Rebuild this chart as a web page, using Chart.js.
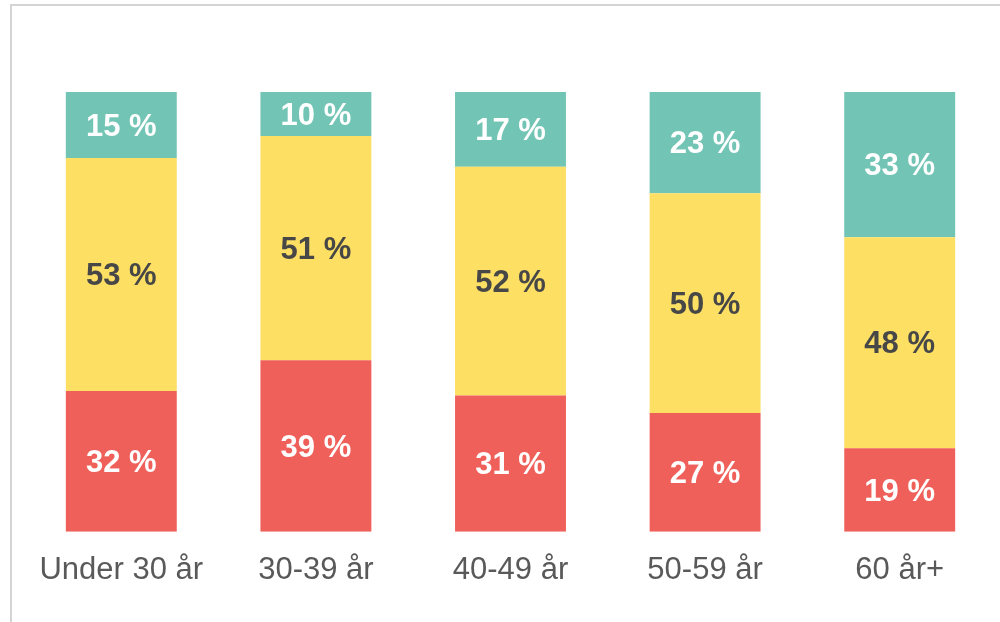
<!DOCTYPE html>
<html>
<head>
<meta charset="utf-8">
<script src="https://cdn.jsdelivr.net/npm/chart.js@4"></script>
<style>
  html, body { margin: 0; padding: 0; background: #fff; overflow: hidden; }
  #frame { position: absolute; left: 10px; top: 4px; width: 1200px; height: 800px;
           border-left: 2px solid #d4d4d4; border-top: 2px solid #d4d4d4; }
  #wrap { position: absolute; left: 0; top: 0; width: 1000px; height: 622px; }
</style>
</head>
<body>
<div id="frame"></div>
<div id="wrap"><canvas id="chart"></canvas></div>
<script>
const categories = ['Under 30 år', '30-39 år', '40-49 år', '50-59 år', '60 år+'];
const redValues = [32, 39, 31, 27, 19];
const yellowValues = [53, 51, 52, 50, 48];
const tealValues = [15, 10, 17, 23, 33];

const FONT = "'Liberation Sans', Arial, sans-serif";

// Draws "NN %" in the middle of every bar segment
const segmentLabels = {
    id: 'segmentLabels',
    afterDatasetsDraw(chart) {
        const ctx = chart.ctx;
        ctx.save();
        ctx.font = 'bold 31px ' + FONT;
        ctx.textAlign = 'center';
        ctx.textBaseline = 'middle';
        chart.data.datasets.forEach(function(ds, i) {
            const meta = chart.getDatasetMeta(i);
            meta.data.forEach(function(bar, j) {
                const y = (bar.y + bar.base) / 2;
                ctx.fillStyle = ds.labelColor;
                ctx.fillText(ds.data[j] + ' %', bar.x, y + 2);
            });
        });
        ctx.restore();
    }
};

new Chart(document.getElementById('chart').getContext('2d'), {
    type: 'bar',
    data: {
        labels: categories,
        datasets: [
            { data: redValues, backgroundColor: '#f0605a', labelColor: '#ffffff' },
            { data: yellowValues, backgroundColor: '#fcdf63', labelColor: '#474747' },
            { data: tealValues, backgroundColor: '#72c4b4', labelColor: '#ffffff' }
        ]
    },
    options: {
        responsive: true,
        maintainAspectRatio: false,
        animation: false,
        datasets: { bar: { categoryPercentage: 1, barPercentage: 0.57 } },
        layout: { padding: { top: 92, left: 24, right: 3, bottom: 13 } },
        plugins: { legend: { display: false }, tooltip: { enabled: false } },
        scales: {
            x: {
                stacked: true,
                grid: { display: false, drawTicks: false },
                border: { display: false },
                ticks: { color: '#595959', font: { family: FONT, size: 31 }, padding: 20 }
            },
            y: {
                stacked: true,
                display: false,
                min: 0,
                max: 100
            }
        }
    },
    plugins: [segmentLabels]
});
</script>
</body>
</html>
